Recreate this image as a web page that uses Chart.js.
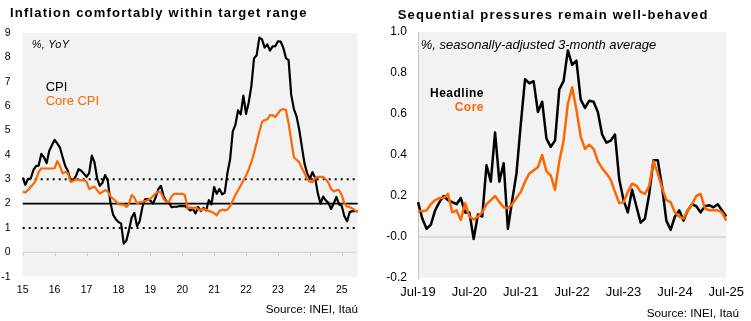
<!DOCTYPE html>
<html>
<head>
<meta charset="utf-8">
<script src="https://cdn.jsdelivr.net/npm/chart.js@4.4.1/dist/chart.umd.min.js"></script>
<style>
  body { margin: 0; background: #fff; }
  #wrap { position: relative; width: 751px; height: 321px; overflow: hidden; font-family: "Liberation Sans", Arial, sans-serif; }
  canvas { position: absolute; top: 0; }
  .txt { position: absolute; white-space: nowrap; line-height: 1; color: #000; }
  .title { font-weight: bold; font-size: 13px; letter-spacing: 1.2px; }
  .note { font-style: italic; }
  .orange { color: #ff6600; }
</style>
</head>
<body>
<div id="wrap">
  <canvas id="cpiChart" width="375" height="321" style="left:0"></canvas>
  <canvas id="seqChart" width="376" height="321" style="left:375px"></canvas>

  <div class="txt title" style="left:10px; top:5.6px">Inflation comfortably within target range</div>
  <div class="txt note" style="left:31.7px; top:39px; font-size:11px; letter-spacing:0.3px">%, YoY</div>
  <div class="txt" style="left:45.7px; top:79.8px; font-size:13px">CPI</div>
  <div class="txt orange" style="left:45.7px; top:93.6px; font-size:13px">Core CPI</div>
  <div class="txt" style="right:393px; top:303px; font-size:11.7px">Source: INEI, Itaú</div>

  <div class="txt title" style="left:397.7px; top:8.3px">Sequential pressures remain well-behaved</div>
  <div class="txt note" style="left:420.7px; top:37.8px; font-size:13px">%, seasonally-adjusted 3-month average</div>
  <div class="txt" style="right:267px; top:87.1px; font-size:12px; font-weight:bold; letter-spacing:0.5px">Headline</div>
  <div class="txt orange" style="right:267px; top:100.8px; font-size:12px; font-weight:bold; letter-spacing:0.5px">Core</div>
  <div class="txt" style="right:12px; top:307.4px; font-size:11.7px">Source: INEI, Itaú</div>
</div>

<script>
// ---- data ----
// YoY inflation, monthly Jan-15 .. Jul-25
const cpi = [
  3.07, 2.77, 3.02, 3.02, 3.37, 3.54, 3.56, 4.04, 3.90, 3.66, 4.17, 4.40,
  4.61, 4.47, 4.30, 3.91, 3.54, 3.34, 2.96, 2.94, 3.13, 3.41, 3.35, 3.23,
  3.10, 3.25, 3.97, 3.69, 3.04, 2.73, 2.85, 3.17, 2.94, 2.04, 1.54, 1.36,
  1.25, 1.18, 0.36, 0.48, 0.93, 1.43, 1.62, 1.07, 1.28, 1.85, 2.17, 2.19,
  2.13, 2.00, 2.25, 2.59, 2.73, 2.29, 2.09, 2.04, 1.85, 1.87, 1.87, 1.90,
  1.90, 1.90, 1.82, 1.72, 1.78, 1.60, 1.86, 1.69, 1.82, 1.72, 2.14, 1.97,
  2.68, 2.40, 2.60, 2.38, 2.45, 3.25, 3.81, 4.95, 5.23, 5.83, 5.66, 6.43,
  5.68, 6.15, 6.82, 7.96, 8.09, 8.81, 8.74, 8.40, 8.53, 8.28, 8.45, 8.46,
  8.66, 8.65, 8.40, 7.97, 7.89, 6.46, 5.88, 5.58, 5.04, 4.34, 3.64, 3.24,
  3.02, 3.29, 3.05, 2.42, 2.00, 2.29, 2.13, 2.03, 1.78, 2.01, 2.27, 1.97,
  1.90, 1.48, 1.28, 1.65, 1.69, 1.69, 1.69
];
const coreCpi = [
  2.48, 2.46, 2.55, 2.69, 2.80, 2.96, 3.30, 3.44, 3.44, 3.44, 3.44, 3.44,
  3.45, 3.74, 3.55, 3.24, 3.30, 3.25, 2.89, 2.92, 2.99, 2.97, 2.95, 2.96,
  2.90, 2.60, 2.65, 2.70, 2.55, 2.41, 2.48, 2.55, 2.50, 2.30, 2.20, 2.10,
  1.98, 1.96, 1.96, 1.86, 2.00, 2.35, 2.25, 2.00, 2.05, 2.07, 2.10, 2.15,
  2.20, 2.30, 2.41, 2.50, 2.45, 2.20, 2.07, 2.07, 2.30, 2.40, 2.40, 2.40,
  2.40, 2.35, 1.80, 1.85, 1.80, 1.85, 1.77, 1.72, 1.78, 1.75, 1.70, 1.66,
  1.60, 1.52, 1.70, 1.75, 1.72, 1.75, 1.90, 2.12, 2.35, 2.55, 2.74, 2.95,
  3.15, 3.40, 3.70, 4.07, 4.50, 4.95, 5.35, 5.43, 5.45, 5.63, 5.63, 5.55,
  5.70, 5.84, 5.88, 5.84, 5.30, 4.60, 3.90, 3.80, 3.70, 3.45, 3.25, 3.00,
  2.90, 2.88, 3.05, 3.10, 3.10, 3.10, 3.00, 2.85, 2.60, 2.50, 2.55, 2.55,
  2.35, 2.00, 1.88, 1.85, 1.80, 1.72, 1.67
];
const targetBand = [1, 3];
const targetMid = 2;
const yearTicks = ['15', '16', '17', '18', '19', '20', '21', '22', '23', '24', '25'];

// seasonally-adjusted 3m average, monthly Jul-19 .. Jul-25
const headline = [
  0.17, 0.09, 0.04, 0.06, 0.13, 0.17, 0.20, 0.18, 0.17, 0.16, 0.19, 0.12,
  0.12, -0.01, 0.11, 0.10, 0.35, 0.27, 0.51, 0.27, 0.36, 0.04, 0.18, 0.31,
  0.55, 0.77, 0.75, 0.76, 0.61, 0.66, 0.48, 0.44, 0.47, 0.72, 0.76, 0.91,
  0.84, 0.86, 0.67, 0.63, 0.665, 0.66, 0.61, 0.50, 0.46, 0.47, 0.50, 0.28,
  0.18, 0.12, 0.23, 0.15, 0.07, 0.09, 0.21, 0.375, 0.375, 0.245, 0.08, 0.035,
  0.10, 0.13, 0.08, 0.13, 0.16, 0.15, 0.12, 0.15, 0.155, 0.145, 0.16, 0.13,
  0.10
];
const core = [
  0.13, 0.125, 0.13, 0.16, 0.18, 0.19, 0.19, 0.21, 0.12, 0.13, 0.083, 0.165,
  0.10, 0.085, 0.10, 0.12, 0.16, 0.18, 0.20, 0.17, 0.145, 0.14, 0.16, 0.19,
  0.22, 0.27, 0.31, 0.325, 0.34, 0.40, 0.32, 0.30, 0.23, 0.37, 0.47, 0.65,
  0.73, 0.62, 0.49, 0.43, 0.45, 0.43, 0.37, 0.335, 0.31, 0.28, 0.22, 0.165,
  0.17, 0.22, 0.26, 0.25, 0.22, 0.21, 0.25, 0.37, 0.31, 0.24, 0.18, 0.17,
  0.12, 0.10, 0.09, 0.13, 0.16, 0.20, 0.21, 0.14, 0.13, 0.13, 0.13, 0.12,
  0.08
];
const monthTicks = ['Jul-19', 'Jul-20', 'Jul-21', 'Jul-22', 'Jul-23', 'Jul-24', 'Jul-25'];

const MONTHS = ['Jan', 'Feb', 'Mar', 'Apr', 'May', 'Jun', 'Jul', 'Aug', 'Sep', 'Oct', 'Nov', 'Dec'];
function monthLabels(year, month, count) {
  const out = [];
  for (let i = 0; i < count; i++) {
    const m = (month + i) % 12;
    const y = year + Math.floor((month + i) / 12);
    out.push(MONTHS[m] + '-' + String(y).slice(2));
  }
  return out;
}
const cpiMonths = monthLabels(2015, 0, cpi.length);
const seqMonths = monthLabels(2019, 6, headline.length);

const FONT = '"Liberation Sans", Arial, sans-serif';
const ORANGE = '#ff6600';

// ---- plugins ----
const plotBg = {
  id: 'plotBg',
  beforeDraw(chart) {
    const { ctx, chartArea: a } = chart;
    ctx.save();
    ctx.fillStyle = '#f2f2f2';
    ctx.fillRect(a.left, a.top, a.width, a.height);
    ctx.restore();
  }
};

// zero line with yearly ticks, plus the 1-3% target band
const targetLines = {
  id: 'targetLines',
  beforeDatasetsDraw(chart) {
    const { ctx, chartArea: a, scales: { x, y } } = chart;
    ctx.save();
    const y0 = y.getPixelForValue(0);
    ctx.strokeStyle = '#d0d0d0';
    ctx.lineWidth = 1;
    ctx.beginPath();
    ctx.moveTo(a.left, y0);
    ctx.lineTo(a.right, y0);
    cpiMonths.forEach((m, i) => {
      if (i % 12 === 0) {
        const px = Math.round(x.getPixelForValue(i)) + 0.5;
        ctx.moveTo(px, y0);
        ctx.lineTo(px, y0 + 4);
      }
    });
    ctx.stroke();

    ctx.strokeStyle = '#000';
    ctx.lineWidth = 2;
    ctx.setLineDash([2, 4]);
    targetBand.forEach(v => {
      const py = y.getPixelForValue(v);
      ctx.beginPath();
      ctx.moveTo(a.left, py);
      ctx.lineTo(a.right, py);
      ctx.stroke();
    });
    ctx.setLineDash([]);
    ctx.lineWidth = 1.6;
    const pm = y.getPixelForValue(targetMid);
    ctx.beginPath();
    ctx.moveTo(a.left, pm);
    ctx.lineTo(a.right, pm);
    ctx.stroke();
    ctx.restore();
  }
};

const zeroLine = {
  id: 'zeroLine',
  beforeDatasetsDraw(chart) {
    const { ctx, chartArea: a, scales: { y } } = chart;
    const y0 = y.getPixelForValue(0);
    ctx.save();
    ctx.strokeStyle = '#c4c4c4';
    ctx.lineWidth = 1;
    ctx.beginPath();
    ctx.moveTo(a.left, y0);
    ctx.lineTo(a.right, y0);
    ctx.stroke();
    ctx.restore();
  }
};

const common = {
  animation: false,
  responsive: false,
  plugins: { legend: { display: false }, tooltip: { enabled: false } },
  elements: { point: { radius: 0 }, line: { tension: 0, borderJoinStyle: 'round' } }
};

// ---- left: YoY ----
new Chart(document.getElementById('cpiChart'), {
  type: 'line',
  data: {
    labels: cpiMonths,
    datasets: [
      { data: coreCpi, borderColor: ORANGE, borderWidth: 2.2 },
      { data: cpi, borderColor: '#000', borderWidth: 2.2 }
    ]
  },
  options: {
    ...common,
    layout: { padding: { top: 33, right: 17.3, left: 0, bottom: 0 } },
    scales: {
      x: {
        offset: false,
        grid: { display: false, drawTicks: false },
        border: { display: false },
        ticks: {
          autoSkip: false, maxRotation: 0, padding: 7, color: '#000',
          font: { family: FONT, size: 10.5 },
          callback: (v, i) => (i % 12 === 0 ? yearTicks[i / 12] : '')
        },
        afterFit: s => { s.height = 44.3; }
      },
      y: {
        min: -1, max: 9,
        grid: { display: false, drawTicks: false },
        border: { display: false },
        ticks: { stepSize: 1, padding: 12, color: '#000', font: { family: FONT, size: 10.5 } },
        afterFit: s => { s.width = 22.7; }
      }
    }
  },
  plugins: [plotBg, targetLines]
});

// ---- right: sequential ----
new Chart(document.getElementById('seqChart'), {
  type: 'line',
  data: {
    labels: seqMonths,
    datasets: [
      { data: core, borderColor: ORANGE, borderWidth: 2.5 },
      { data: headline, borderColor: '#000', borderWidth: 2.5 }
    ]
  },
  options: {
    ...common,
    layout: { padding: { top: 32, right: 21, left: 0, bottom: 0 } },
    scales: {
      x: {
        offset: false,
        grid: { display: false, drawTicks: false },
        border: { display: false },
        ticks: {
          autoSkip: false, maxRotation: 0, padding: 7, color: '#000',
          font: { family: FONT, size: 13 },
          callback: (v, i) => (i % 12 === 0 ? monthTicks[i / 12] : '')
        },
        afterFit: s => { s.height = 43; }
      },
      y: {
        min: -0.2, max: 1.0,
        grid: { display: false, drawTicks: false },
        border: { display: true, color: '#c4c4c4', width: 1 },
        ticks: {
          stepSize: 0.2, padding: 11, color: '#000',
          font: { family: FONT, size: 12 },
          callback: v => v.toFixed(1)
        },
        afterFit: s => { s.width = 43; }
      }
    }
  },
  plugins: [plotBg, zeroLine]
});
</script>
</body>
</html>
